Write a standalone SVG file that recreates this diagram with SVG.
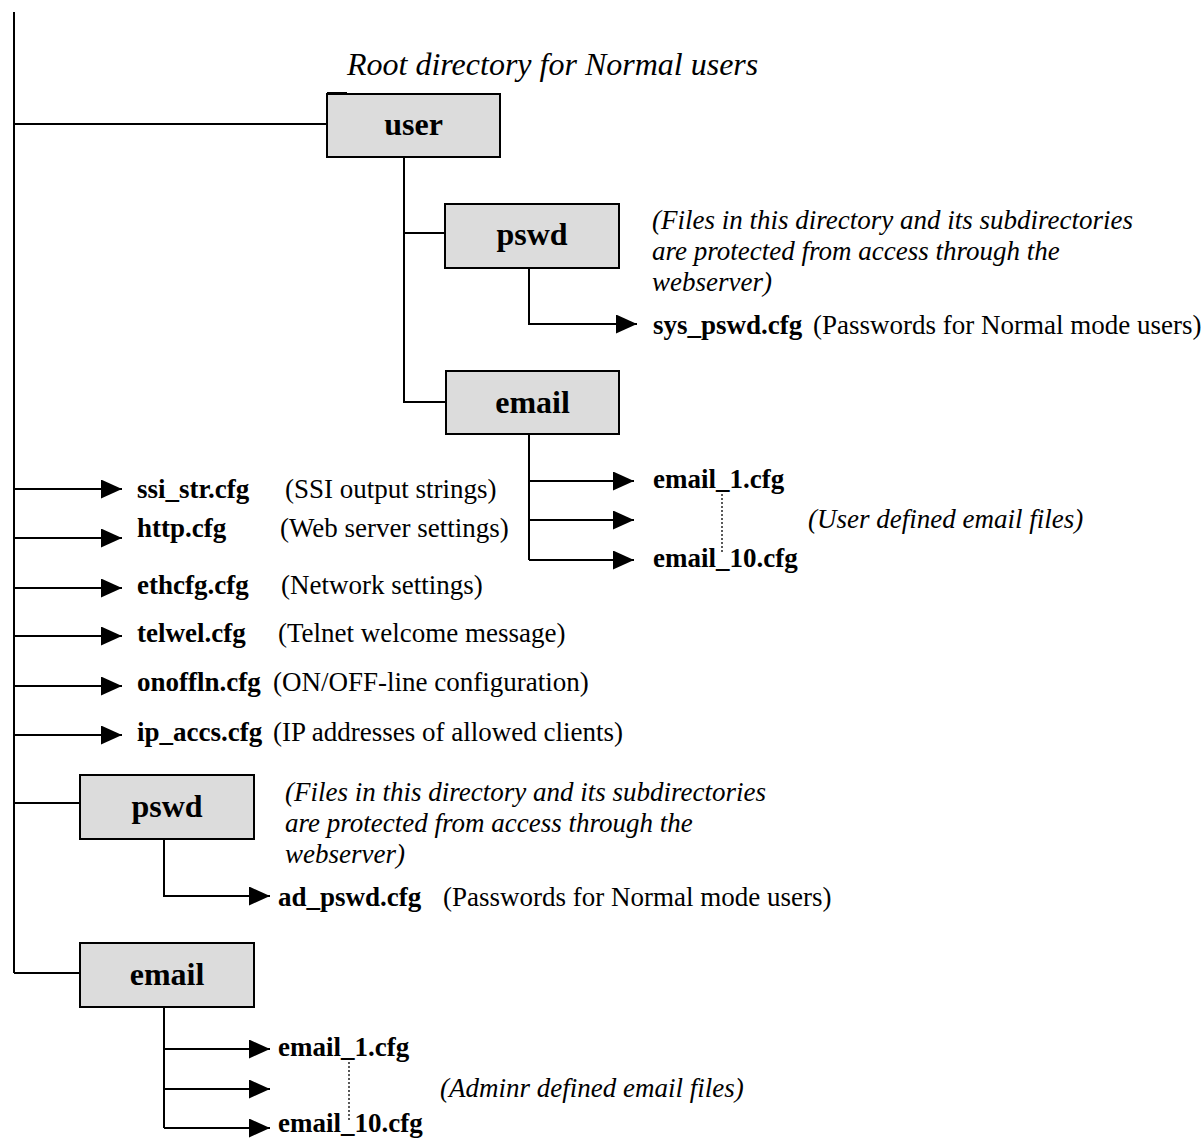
<svg xmlns="http://www.w3.org/2000/svg" width="1201" height="1139" viewBox="0 0 1201 1139">
<style>
.ln{fill:none;stroke:#000;stroke-width:2}
.arr{fill:none;stroke:#000;stroke-width:2;marker-end:url(#ah)}
.dot{fill:none;stroke:#000;stroke-width:1.3;stroke-dasharray:2 2}
.box{fill:#dcdcdc;stroke:#000;stroke-width:2}
.bl{font-family:"Liberation Serif","Times New Roman",serif;font-weight:bold;font-size:32px;text-anchor:middle;fill:#000}
.fn{font-family:"Liberation Serif","Times New Roman",serif;font-weight:bold;font-size:27px;fill:#000}
.ds{font-family:"Liberation Serif","Times New Roman",serif;font-size:27px;fill:#000}
.it{font-family:"Liberation Serif","Times New Roman",serif;font-style:italic;font-size:27px;fill:#000}
.rt{font-family:"Liberation Serif","Times New Roman",serif;font-style:italic;font-size:32px;fill:#000}
</style>
<defs>
<marker id="ah" markerUnits="userSpaceOnUse" markerWidth="21" markerHeight="19" viewBox="0 0 21 19" refX="21" refY="9.5" orient="auto">
<path d="M0,0 L21,9.5 L0,19 z" fill="#000"/>
</marker>
</defs>
<rect width="1201" height="1139" fill="#fff"/>

<g id="connectors">
<path class="ln" d="M14,12 V973"/>
<path class="ln" d="M14,124 H327"/>
<path class="ln" d="M327,93 H347"/>
<path class="ln" d="M404,157 V402 H446"/>
<path class="ln" d="M404,233 H445"/>
<path class="arr" d="M529,268 V324 H637"/>
<path class="ln" d="M529,434 V560"/>
<path class="arr" d="M529,481 H634"/>
<path class="arr" d="M529,520 H634"/>
<path class="arr" d="M529,560 H634"/>
<path class="dot" d="M722,490 V552"/>
<path class="arr" d="M14,489 H122"/>
<path class="arr" d="M14,538 H122"/>
<path class="arr" d="M14,588 H122"/>
<path class="arr" d="M14,636 H122"/>
<path class="arr" d="M14,686 H122"/>
<path class="arr" d="M14,735 H122"/>
<path class="ln" d="M14,803 H80"/>
<path class="arr" d="M164,839 V896 H270"/>
<path class="ln" d="M14,973 H80"/>
<path class="ln" d="M164,1007 V1128"/>
<path class="arr" d="M164,1049 H270"/>
<path class="arr" d="M164,1089 H270"/>
<path class="arr" d="M164,1128 H270"/>
<path class="dot" d="M349,1058 V1120"/>
</g>

<g id="node-user">
<text class="rt" x="347" y="75">Root directory for Normal users</text>
<rect class="box" x="327" y="94" width="173" height="63"/>
<text class="bl" x="413.5" y="135">user</text>
</g>

<g id="node-user-pswd">
<rect class="box" x="445" y="204" width="174" height="64"/>
<text class="bl" x="532" y="245">pswd</text>
<text class="it" x="652" y="229">(Files in this directory and its subdirectories</text>
<text class="it" x="652" y="260">are protected from access through the</text>
<text class="it" x="652" y="291">webserver)</text>
</g>

<g id="file-sys-pswd">
<text class="fn" x="653" y="334">sys_pswd.cfg</text>
<text class="ds" x="813" y="334">(Passwords for Normal mode users)</text>
</g>

<g id="node-user-email">
<rect class="box" x="446" y="371" width="173" height="63"/>
<text class="bl" x="532.5" y="413">email</text>
</g>

<g id="file-user-email">
<text class="fn" x="653" y="488">email_1.cfg</text>
<text class="fn" x="653" y="567">email_10.cfg</text>
<text class="it" x="808" y="528">(User defined email files)</text>
</g>

<g id="file-ssi-str">
<text class="fn" x="137" y="498">ssi_str.cfg</text>
<text class="ds" x="285" y="498">(SSI output strings)</text>
</g>
<g id="file-http">
<text class="fn" x="137" y="537">http.cfg</text>
<text class="ds" x="280" y="537">(Web server settings)</text>
</g>
<g id="file-ethcfg">
<text class="fn" x="137" y="594">ethcfg.cfg</text>
<text class="ds" x="281" y="594">(Network settings)</text>
</g>
<g id="file-telwel">
<text class="fn" x="137" y="642">telwel.cfg</text>
<text class="ds" x="278" y="642">(Telnet welcome message)</text>
</g>
<g id="file-onoffln">
<text class="fn" x="137" y="691">onoffln.cfg</text>
<text class="ds" x="273" y="691">(ON/OFF-line configuration)</text>
</g>
<g id="file-ip-accs">
<text class="fn" x="137" y="741">ip_accs.cfg</text>
<text class="ds" x="273" y="741">(IP addresses of allowed clients)</text>
</g>

<g id="node-admin-pswd">
<rect class="box" x="80" y="775" width="174" height="64"/>
<text class="bl" x="167" y="817">pswd</text>
<text class="it" x="285" y="801">(Files in this directory and its subdirectories</text>
<text class="it" x="285" y="832">are protected from access through the</text>
<text class="it" x="285" y="863">webserver)</text>
</g>

<g id="file-ad-pswd">
<text class="fn" x="278" y="906">ad_pswd.cfg</text>
<text class="ds" x="443" y="906">(Passwords for Normal mode users)</text>
</g>

<g id="node-admin-email">
<rect class="box" x="80" y="943" width="174" height="64"/>
<text class="bl" x="167" y="985">email</text>
</g>

<g id="file-admin-email">
<text class="fn" x="278" y="1056">email_1.cfg</text>
<text class="fn" x="278" y="1132">email_10.cfg</text>
<text class="it" x="440" y="1097">(Adminr defined email files)</text>
</g>
</svg>
